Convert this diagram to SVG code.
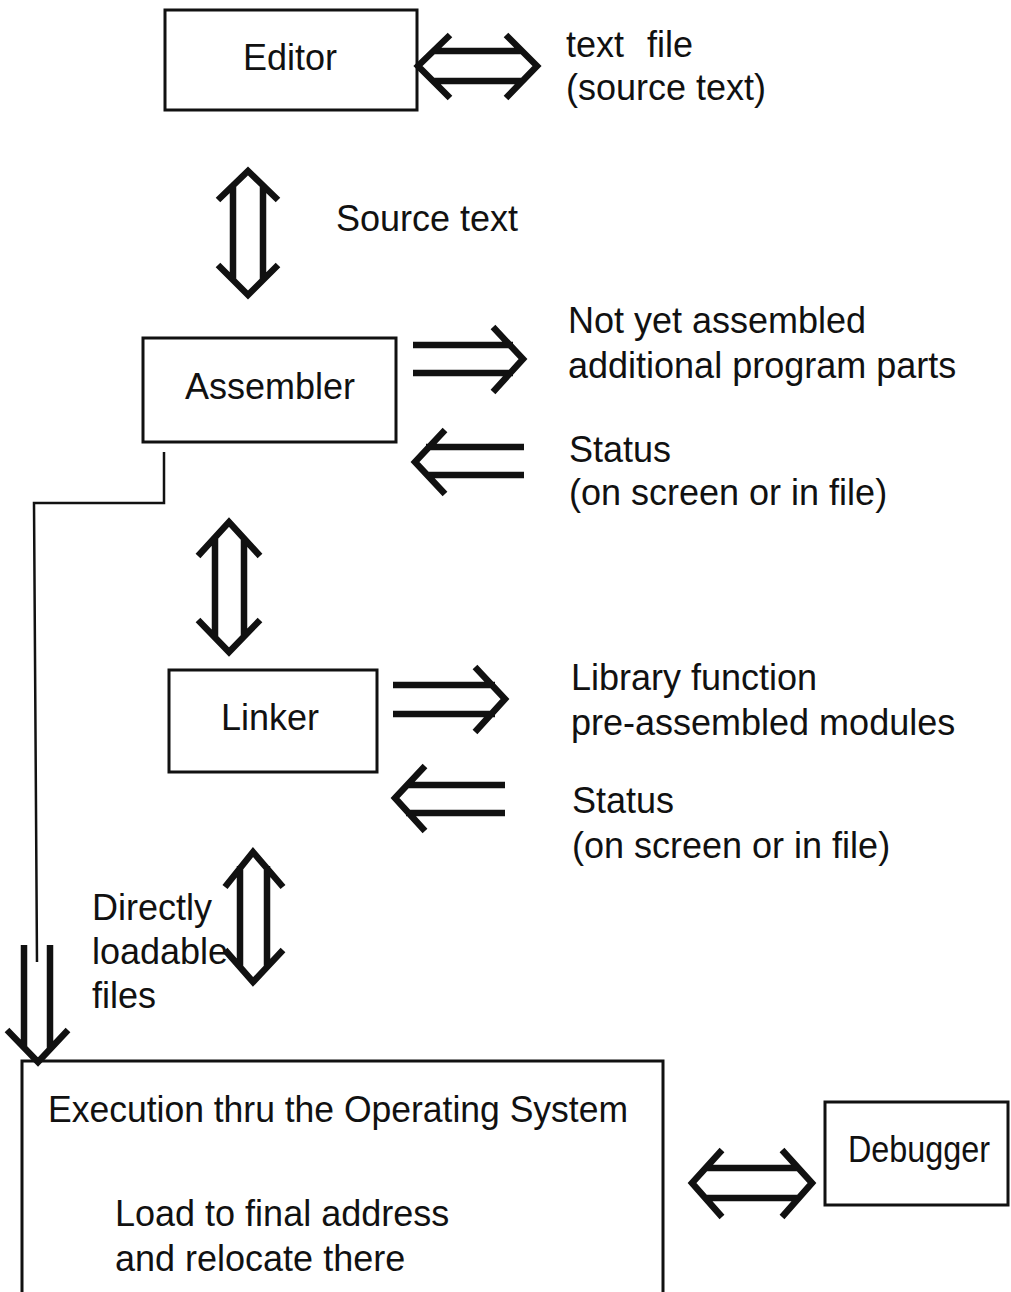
<svg xmlns="http://www.w3.org/2000/svg" width="1011" height="1292" viewBox="0 0 1011 1292">
  <style>
    .box { fill: none; stroke: #111; stroke-width: 3; }
    .lbl { font-family: "Liberation Sans", Arial, sans-serif; font-size: 36px; fill: #111; }
    .mid { text-anchor: middle; }
    .arw { fill: none; stroke: #111; stroke-width: 6.5; stroke-linejoin: miter; stroke-linecap: butt; }
    .wire { fill: none; stroke: #111; stroke-width: 2.5; }
  </style>
  <rect width="1011" height="1292" fill="#fff"/>

  <!-- nodes -->
  <g id="editor">
    <rect class="box" x="165" y="10" width="252" height="100"/>
    <text class="lbl mid" x="290" y="70">Editor</text>
  </g>
  <g id="assembler">
    <rect class="box" x="143" y="338" width="253" height="104"/>
    <text class="lbl mid" x="270" y="399">Assembler</text>
  </g>
  <g id="linker">
    <rect class="box" x="169" y="670" width="208" height="102"/>
    <text class="lbl mid" x="270" y="730">Linker</text>
  </g>
  <g id="execution">
    <rect class="box" x="22" y="1061" width="641" height="260"/>
    <text class="lbl" x="48" y="1122" textLength="580" lengthAdjust="spacingAndGlyphs">Execution thru the Operating System</text>
    <text class="lbl" x="115" y="1226">Load to final address</text>
    <text class="lbl" x="115" y="1271">and relocate there</text>
  </g>
  <g id="debugger">
    <rect class="box" x="825" y="1102" width="183" height="103"/>
    <text class="lbl mid" x="919" y="1162" textLength="142" lengthAdjust="spacingAndGlyphs">Debugger</text>
  </g>

  <!-- side labels -->
  <g id="textfile">
    <text class="lbl" x="566" y="57">text</text>
    <text class="lbl" x="647" y="57">file</text>
    <text class="lbl" x="566" y="100">(source text)</text>
  </g>
  <g id="asm-out">
    <text class="lbl" x="568" y="333">Not yet assembled</text>
    <text class="lbl" x="568" y="378">additional program parts</text>
  </g>
  <g id="asm-status">
    <text class="lbl" x="569" y="462">Status</text>
    <text class="lbl" x="569" y="505">(on screen or in file)</text>
  </g>
  <g id="lib">
    <text class="lbl" x="571" y="690">Library function</text>
    <text class="lbl" x="571" y="735">pre-assembled modules</text>
  </g>
  <g id="lnk-status">
    <text class="lbl" x="572" y="813">Status</text>
    <text class="lbl" x="572" y="858">(on screen or in file)</text>
  </g>

  <!-- connectors -->
  <g id="connectors">
    <!-- Editor <-> text file -->
    <path class="arw" d="M434 51 H521 M434 81 H521 M450 35 L418 66 L450 98 M506 35 L537 66 L506 98"/>
    <!-- Editor <-> Assembler -->
    <path class="arw" d="M233 187 V280 M263 187 V280 M218 200 L248 171 L278 200 M218 265 L248 295 L278 265"/>
    <text class="lbl" x="336" y="231">Source text</text>
    <!-- Assembler -> parts -->
    <path class="arw" d="M413 345 H513 M413 373 H513 M493 327 L523 359 L493 392"/>
    <!-- Assembler <- status -->
    <path class="arw" d="M426 447 H524 M426 475 H524 M445 430 L415 462 L445 494"/>
    <!-- Assembler <-> Linker -->
    <path class="arw" d="M215 537 V637 M244 537 V637 M198 556 L229 522 L260 556 M198 620 L229 652 L260 620"/>
    <!-- Linker -> library -->
    <path class="arw" d="M393 685 H495 M393 714 H495 M475 667 L505 699 L475 732"/>
    <!-- Linker <- status -->
    <path class="arw" d="M406 785 H505 M406 813 H505 M425 766 L395 798 L425 831"/>
    <!-- Linker <-> Execution -->
    <path class="arw" d="M240 866 V968 M267 866 V968 M225 887 L253 852 L283 887 M225 950 L253 982 L283 950"/>
    <text class="lbl" x="92" y="920">Directly</text>
    <text class="lbl" x="92" y="964">loadable</text>
    <text class="lbl" x="92" y="1008">files</text>
    <!-- Assembler bypass to Execution -->
    <polyline class="wire" points="164,452 164,503 34,503 37,962"/>
    <path class="arw" d="M24 945 V1048 M50 945 V1048 M7 1030 L38 1062 L68 1030"/>
    <!-- Execution <-> Debugger -->
    <path class="arw" d="M706 1168 H798 M706 1198 H798 M722 1150 L692 1183 L722 1217 M782 1150 L812 1183 L782 1217"/>
  </g>
</svg>
